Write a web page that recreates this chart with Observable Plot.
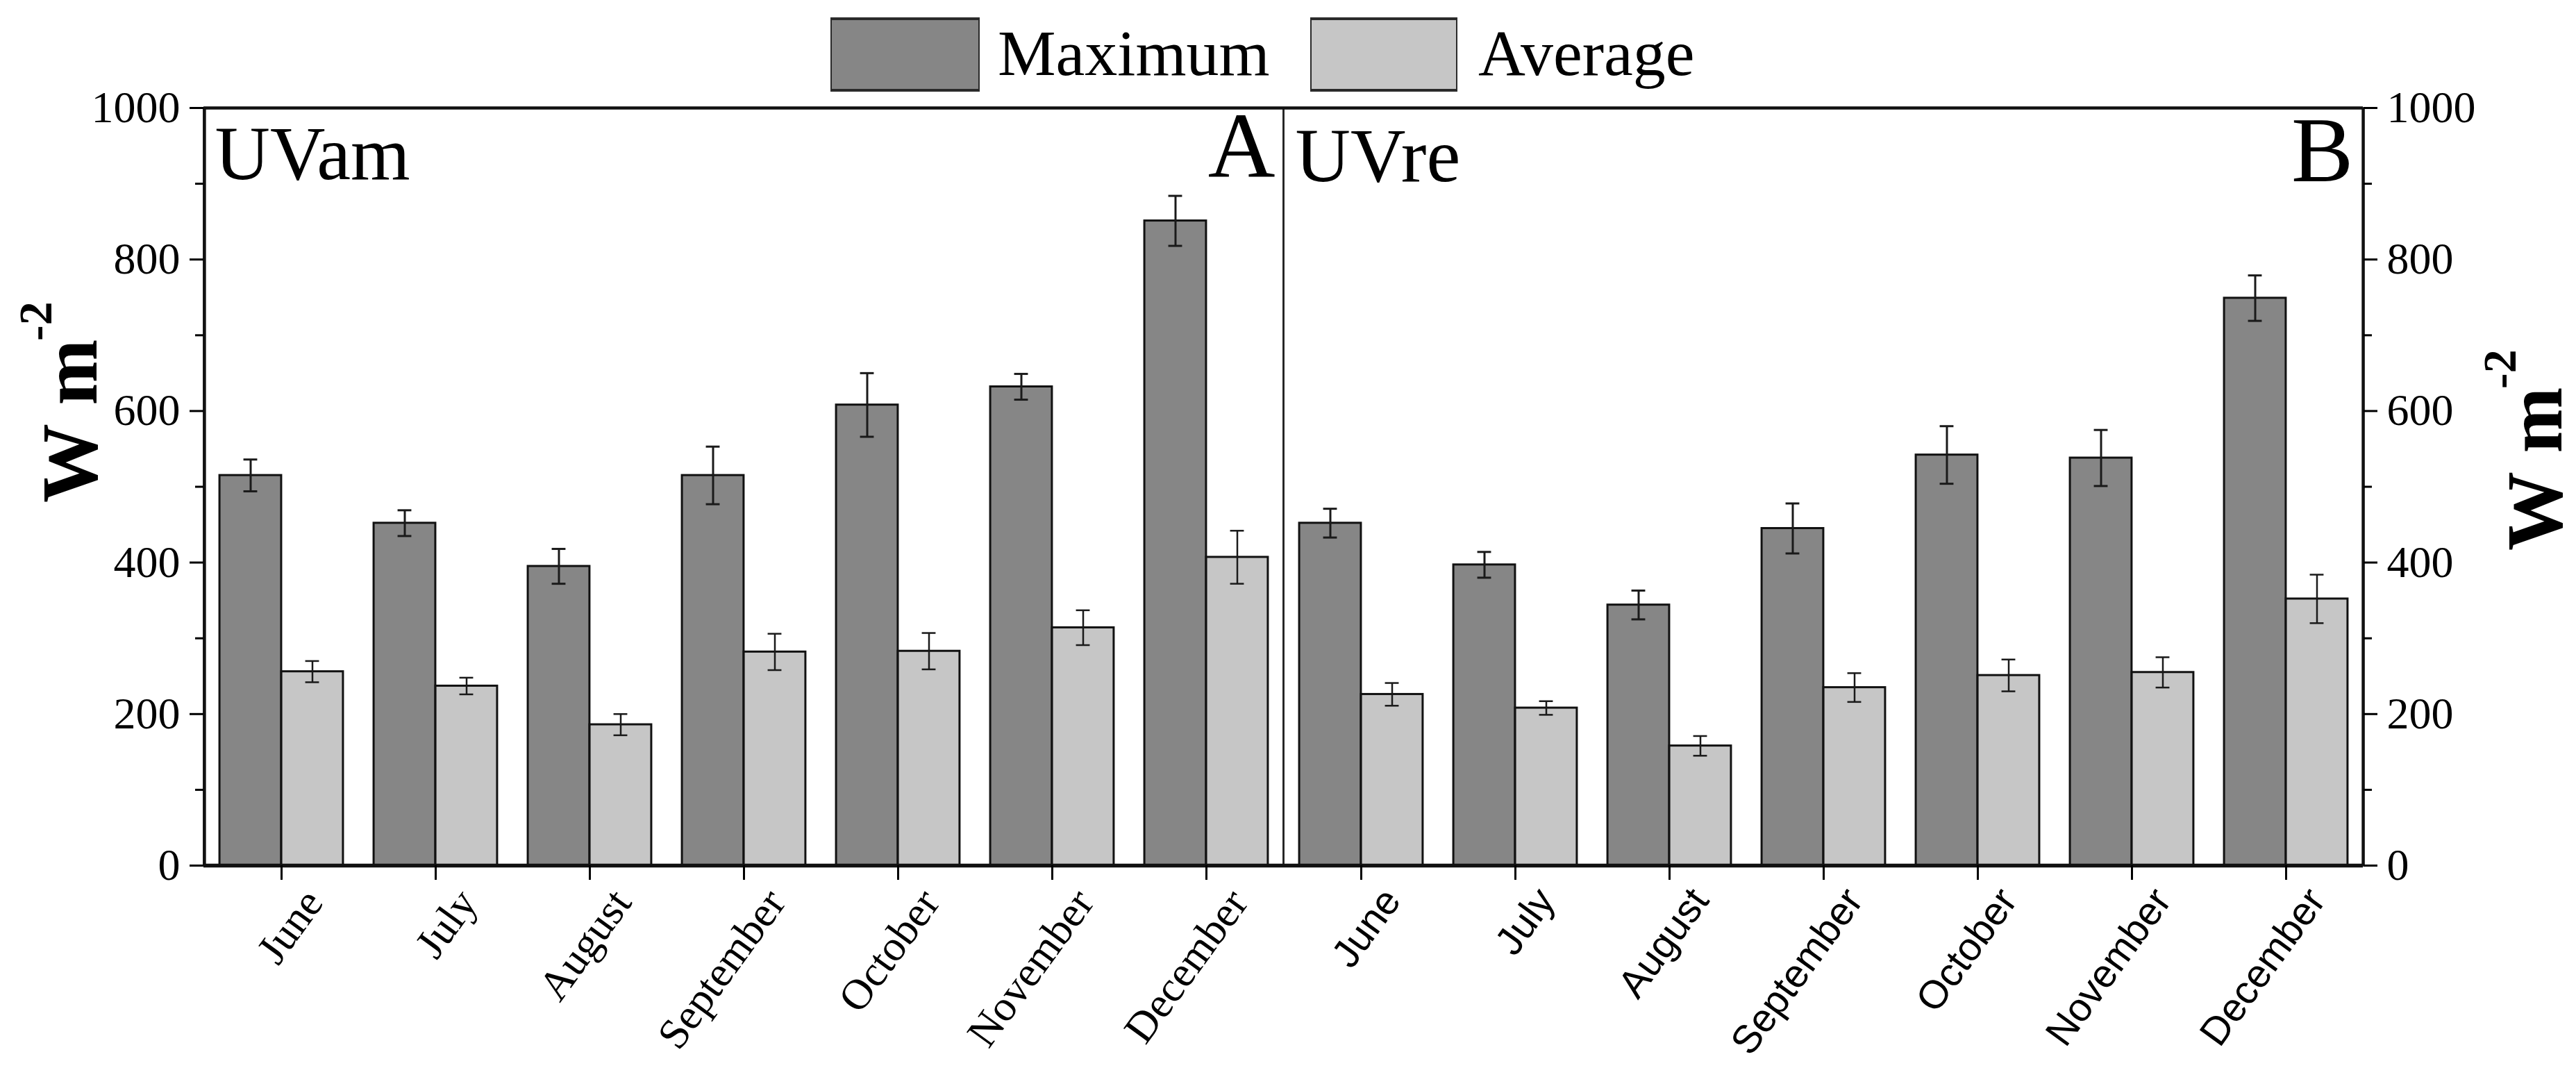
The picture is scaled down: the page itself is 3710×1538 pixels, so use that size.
<!DOCTYPE html>
<html>
<head>
<meta charset="utf-8">
<script src="https://cdn.jsdelivr.net/npm/d3@7"></script>
<script src="https://cdn.jsdelivr.net/npm/@observablehq/plot@0.6"></script>
<style>
html, body { margin: 0; padding: 0; background: #fff; }
#wrap { width: 3710px; }
#legend { position: relative; width: 3710px; height: 130px; font-family: "Liberation Serif", "Times New Roman", serif; }
.sw { position: absolute; top: 25px; height: 107px; box-sizing: border-box; border: 2px solid #2a2a2a; border-top-width: 4px; border-bottom-width: 4px; }
.lt { position: absolute; top: 29px; font-size: 94px; line-height: 94px; color: #000; white-space: nowrap; }
#chart svg { overflow: visible; display: block; }
</style>
</head>
<body>
<div id="wrap">
  <div id="legend"></div>
  <div id="chart"></div>
</div>
<script>
// ---------------- data ----------------
const months = ["June", "July", "August", "September", "October", "November", "December"];
const series = ["Maximum", "Average"];
const seriesColors = ["#868686", "#c6c6c6"];
const panels = ["A", "B"];
const panelNames = ["UVam", "UVre"];

// Panel A (UVam)
const maxA    = [515, 452, 395, 515, 608, 632, 851];
const errMaxA = [21, 17, 23, 38, 42, 17, 33];
const avgA    = [256, 237, 186, 282, 283, 314, 407];
const errAvgA = [14, 11, 14, 24, 24, 23, 35];

// Panel B (UVre)
const maxB    = [452, 397, 344, 445, 542, 538, 749];
const errMaxB = [19, 17, 19, 33, 38, 37, 30];
const avgB    = [226, 208, 158, 235, 251, 255, 352];
const errAvgB = [15, 9, 13, 19, 21, 20, 32];

const yTicks = [0, 200, 400, 600, 800, 1000];
const yMinorTicks = [100, 300, 500, 700, 900];
const yTitle = "W m";
const yTitleSup = "-2";

// ---------------- table ----------------
const rows = [];
panels.forEach((p, pi) => {
  const mx = pi === 0 ? maxA : maxB, emx = pi === 0 ? errMaxA : errMaxB;
  const av = pi === 0 ? avgA : avgB, eav = pi === 0 ? errAvgA : errAvgB;
  months.forEach((m, i) => {
    rows.push({panel: p, month: m, series: series[0], value: mx[i], err: emx[i]});
    rows.push({panel: p, month: m, series: series[1], value: av[i], err: eav[i]});
  });
});
const maxRows = rows.filter(d => d.series === series[0]);
const avgRows = rows.filter(d => d.series === series[1]);
const labelsA = months.map(m => ({panel: panels[0], month: m}));
const labelsB = months.map(m => ({panel: panels[1], month: m}));

// ---------------- layout ----------------
const W = 3710, H = 1408, ML = 293, MR = 307, MT = 25, MB = 292;
const step = (W - ML - MR) / panels.length / months.length;
const half = step / 2;
const barW = 89;
const inner = half - barW;
const capW = 20;
const capInset = (step - capW) / 2;
const off = barW / 2;
const serif = "Liberation Serif, Times New Roman, serif";
const sans = "Liberation Sans, Arial, sans-serif";
const noLabel = () => "";
const plain = d => String(d);

// ---------------- legend (HTML) ----------------
const legend = document.getElementById("legend");
const legendPos = [{sw: 1196, w: 215, t: 1437}, {sw: 1887, w: 212, t: 2129}];
series.forEach((s, i) => {
  const r = document.createElement("div");
  r.className = "sw";
  r.style.left = legendPos[i].sw + "px";
  r.style.width = legendPos[i].w + "px";
  r.style.background = seriesColors[i];
  legend.appendChild(r);
  const t = document.createElement("div");
  t.className = "lt";
  t.style.left = legendPos[i].t + "px";
  t.textContent = s;
  legend.appendChild(t);
});

// ---------------- chart ----------------
const chart = Plot.plot({
  width: W,
  height: H,
  marginLeft: ML,
  marginRight: MR,
  marginTop: MT,
  marginBottom: MB,
  style: {background: "#fff", color: "#000"},
  fx: {domain: panels, padding: 0, axis: null, label: null},
  x: {type: "band", domain: months, padding: 0, label: null},
  y: {domain: [0, 1000], label: null},
  color: {domain: series, range: seriesColors},
  marks: [
    // bars
    Plot.barY(maxRows, {fx: "panel", x: "month", y: "value", fill: "series", stroke: "#111", strokeWidth: 3, insetLeft: inner, insetRight: half}),
    Plot.barY(avgRows, {fx: "panel", x: "month", y: "value", fill: "series", stroke: "#111", strokeWidth: 3, insetLeft: half, insetRight: inner}),
    // error bars
    Plot.ruleX(maxRows, {fx: "panel", x: "month", y1: d => d.value - d.err, y2: d => d.value + d.err, dx: -off, stroke: "#1a1a1a", strokeWidth: 3}),
    Plot.tickY(maxRows, {fx: "panel", x: "month", y: d => d.value + d.err, dx: -off, insetLeft: capInset, insetRight: capInset, stroke: "#1a1a1a", strokeWidth: 3}),
    Plot.tickY(maxRows, {fx: "panel", x: "month", y: d => d.value - d.err, dx: -off, insetLeft: capInset, insetRight: capInset, stroke: "#1a1a1a", strokeWidth: 3}),
    Plot.ruleX(avgRows, {fx: "panel", x: "month", y1: d => d.value - d.err, y2: d => d.value + d.err, dx: off, stroke: "#1a1a1a", strokeWidth: 2.5}),
    Plot.tickY(avgRows, {fx: "panel", x: "month", y: d => d.value + d.err, dx: off, insetLeft: capInset, insetRight: capInset, stroke: "#1a1a1a", strokeWidth: 2.5}),
    Plot.tickY(avgRows, {fx: "panel", x: "month", y: d => d.value - d.err, dx: off, insetLeft: capInset, insetRight: capInset, stroke: "#1a1a1a", strokeWidth: 2.5}),
    // frame & axis lines
    Plot.frame({stroke: "#222", strokeWidth: 2.5}),
    Plot.ruleY([1000], {stroke: "#111", strokeWidth: 4.5}),
    Plot.ruleY([0], {stroke: "#111", strokeWidth: 5.5}),
    Plot.ruleX([months[0]], {fx: () => panels[0], x: d => d, y1: 0, y2: 1000, dx: -half, stroke: "#111", strokeWidth: 4.5}),
    Plot.ruleX([months[months.length - 1]], {fx: () => panels[1], x: d => d, y1: 0, y2: 1000, dx: half, stroke: "#111", strokeWidth: 4.5}),
    // y axes
    Plot.axisY(yTicks, {anchor: "left", label: null, tickSize: 20, tickPadding: 14, strokeWidth: 3, fontSize: 64, fontFamily: serif, tickFormat: plain}),
    Plot.axisY(yMinorTicks, {anchor: "left", label: null, tickSize: 12, strokeWidth: 3, tickFormat: noLabel}),
    Plot.axisY(yTicks, {anchor: "right", label: null, tickSize: 20, tickPadding: 14, strokeWidth: 3, fontSize: 64, fontFamily: serif, tickFormat: plain}),
    Plot.axisY(yMinorTicks, {anchor: "right", label: null, tickSize: 12, strokeWidth: 3, tickFormat: noLabel}),
    // x ticks
    Plot.axisX({anchor: "bottom", label: null, tickSize: 21, strokeWidth: 3, tickFormat: noLabel}),
    // x tick labels (serif in A, sans in B)
    Plot.text(labelsA, {fx: "panel", x: "month", text: "month", frameAnchor: "bottom", rotate: -54, textAnchor: "end", lineAnchor: "middle", dx: 46, dy: 42, fontSize: 62, fontFamily: serif, fill: "#000"}),
    Plot.text(labelsB, {fx: "panel", x: "month", text: "month", frameAnchor: "bottom", rotate: -54, textAnchor: "end", lineAnchor: "middle", dx: 44, dy: 40, fontSize: 57, fontFamily: sans, fill: "#000"}),
    // panel labels
    Plot.text([panelNames[0]], {fx: () => panels[0], frameAnchor: "top-left", textAnchor: "start", lineAnchor: "bottom", dx: 16, dy: 102, fontSize: 110, fontFamily: serif, fill: "#000"}),
    Plot.text([panels[0]], {fx: () => panels[0], frameAnchor: "top-right", textAnchor: "end", lineAnchor: "bottom", dx: -12, dy: 98, fontSize: 134, fontFamily: serif, fill: "#000"}),
    Plot.text([panelNames[1]], {fx: () => panels[1], frameAnchor: "top-left", textAnchor: "start", lineAnchor: "bottom", dx: 17, dy: 105, fontSize: 110, fontFamily: serif, fill: "#000"}),
    Plot.text([panels[1]], {fx: () => panels[1], frameAnchor: "top-right", textAnchor: "end", lineAnchor: "bottom", dx: -14, dy: 105, fontSize: 134, fontFamily: serif, fill: "#000"}),
    // y titles
    Plot.text([yTitle], {fx: () => panels[0], frameAnchor: "left", textAnchor: "start", lineAnchor: "bottom", rotate: -90, dx: -155, dy: 23, fontSize: 114, fontWeight: "bold", fontFamily: serif, fill: "#000"}),
    Plot.text([yTitleSup], {fx: () => panels[0], frameAnchor: "left", textAnchor: "start", lineAnchor: "bottom", rotate: -90, dx: -220, dy: -210, fontSize: 68, fontWeight: "bold", fontFamily: serif, fill: "#000"}),
    Plot.text([yTitle], {fx: () => panels[1], frameAnchor: "right", textAnchor: "start", lineAnchor: "bottom", rotate: -90, dx: 285, dy: 92, fontSize: 114, fontWeight: "bold", fontFamily: serif, fill: "#000"}),
    Plot.text([yTitleSup], {fx: () => panels[1], frameAnchor: "right", textAnchor: "start", lineAnchor: "bottom", rotate: -90, dx: 219, dy: -141, fontSize: 68, fontWeight: "bold", fontFamily: serif, fill: "#000"})
  ]
});
document.getElementById("chart").appendChild(chart);
</script>
</body>
</html>
